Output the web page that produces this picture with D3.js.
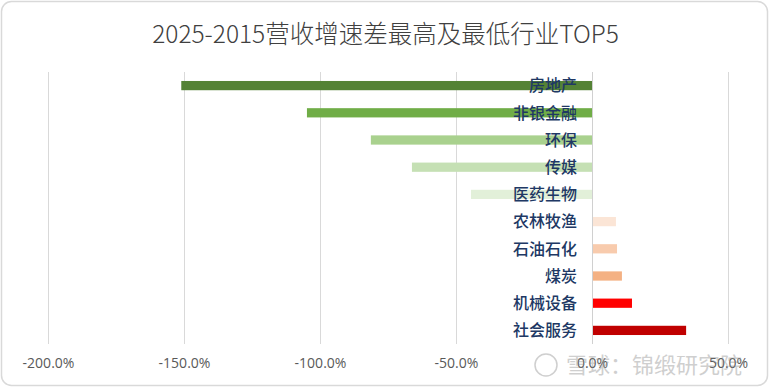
<!DOCTYPE html>
<html>
<head>
<meta charset="utf-8">
<script src="https://cdn.jsdelivr.net/npm/d3@7"></script>
<style>
  html, body { margin: 0; padding: 0; background: #fff; }
  svg { display: block; }
  .grid line { stroke: #d9d9d9; stroke-width: 1; }
  .tick text { fill: #595959; }
</style>
</head>
<body>
<script>
// categories top to bottom
const industries = ["房地产", "非银金融", "环保", "传媒", "医药生物", "农林牧渔", "石油石化", "煤炭", "机械设备", "社会服务"];
// 2025 vs 2015 revenue growth difference, %
const diffs = [-151.0, -104.8, -81.3, -66.2, -44.5, 8.8, 9.2, 11.0, 14.7, 34.6];
const barColors = ["#548235", "#70ad47", "#a9d18e", "#c5e0b4", "#e2f0d9", "#fbe5d6", "#f8cbad", "#f4b183", "#ff0000", "#c00000"];
const xTicks = [-200, -150, -100, -50, 0, 50];

const W = 769, H = 387;
let margin = {top: 72, right: 41, bottom: 43, left: 48},
    width = W - margin.left - margin.right,
    height = H - margin.top - margin.bottom;

let svg = d3.select("body").append("svg")
  .attr("width", W)
  .attr("height", H);

// chart frame
svg.append("rect")
  .attr("x", 1.5).attr("y", 1.5)
  .attr("width", W - 3).attr("height", H - 3)
  .attr("rx", 10).attr("ry", 10)
  .attr("fill", "#fff")
  .attr("stroke", "#d9d9d9")
  .attr("stroke-width", 1.5);

svg.append("text")
  .attr("x", W / 2 + 1)
  .attr("y", 43)
  .attr("text-anchor", "middle")
  .attr("font-family", "'Noto Sans CJK SC', 'Noto Sans', sans-serif")
  .attr("font-size", 24.5)
  .attr("font-weight", 300)
  .attr("fill", "#404040")
  .text("2025-2015营收增速差最高及最低行业TOP5");

let g = svg.append("g")
  .attr("transform", "translate(" + margin.left + "," + margin.top + ")");

let x = d3.scaleLinear().domain([-200, 50]).range([0, width]);
let y = d3.scaleBand().domain(industries).range([0, height]).paddingInner(0.66).paddingOuter(0.33);

// vertical gridlines
g.append("g")
  .attr("class", "grid")
  .selectAll("line")
  .data(xTicks)
  .enter().append("line")
  .attr("x1", d => Math.round(x(d)) + 0.5)
  .attr("x2", d => Math.round(x(d)) + 0.5)
  .attr("y1", 0)
  .attr("y2", height);

// x axis labels
let xAxis = g.append("g")
  .attr("transform", "translate(0," + height + ")")
  .call(d3.axisBottom(x).tickValues(xTicks).tickSize(0).tickPadding(14).tickFormat(d => d.toFixed(1) + "%"));
xAxis.select(".domain").remove();
xAxis.selectAll("text")
  .attr("font-family", "'Open Sans', 'Noto Sans', sans-serif")
  .attr("font-size", 14);

// bars
g.selectAll(".bar")
  .data(industries)
  .enter().append("rect")
  .attr("class", "bar")
  .attr("x", (d, i) => x(Math.min(0, diffs[i])))
  .attr("y", d => y(d))
  .attr("width", (d, i) => Math.abs(x(diffs[i]) - x(0)))
  .attr("height", y.bandwidth())
  .attr("fill", (d, i) => barColors[i]);

// zero line on top of bars
g.append("line")
  .attr("x1", Math.round(x(0)) + 0.5).attr("x2", Math.round(x(0)) + 0.5)
  .attr("y1", 0).attr("y2", height)
  .attr("stroke", "#d0d0d0");

// category labels near the zero line
g.selectAll(".lbl")
  .data(industries)
  .enter().append("text")
  .attr("class", "lbl")
  .attr("x", x(0) - 15)
  .attr("y", d => y(d) + y.bandwidth() / 2)
  .attr("dy", "0.36em")
  .attr("text-anchor", "end")
  .attr("font-family", "'Noto Sans CJK SC', sans-serif")
  .attr("font-size", 16)
  .attr("font-weight", 500)
  .attr("fill", "#203864")
  .text(d => d);

// watermark
let wm = svg.append("g").attr("opacity", 0.4);
wm.append("circle").attr("cx", 546).attr("cy", 365).attr("r", 11)
  .attr("fill", "none").attr("stroke", "#888").attr("stroke-width", 1.5);
wm.append("text")
  .attr("x", 566).attr("y", 373)
  .attr("font-family", "'Noto Sans CJK SC', sans-serif")
  .attr("font-size", 22)
  .attr("fill", "#888")
  .text("雪球：锦缎研究院");
</script>
</body>
</html>
